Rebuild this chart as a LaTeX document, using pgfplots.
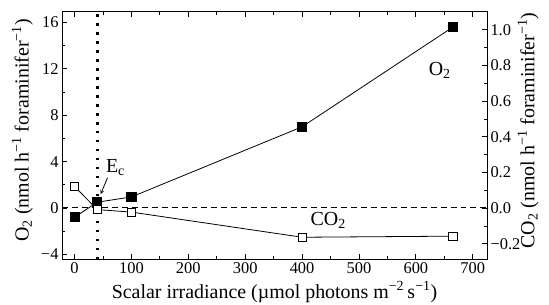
\documentclass[border=0pt]{standalone}
\usepackage{fontspec}
\setmainfont{Liberation Serif}
\usepackage{pgfplots}
\pgfplotsset{compat=1.18}
\begin{document}
\begin{tikzpicture}[font=\fontsize{20}{23}\selectfont]
\pgfplotsset{
  common/.style={
    scale only axis, width=425bp, height=247bp,
    xmin=-22, xmax=725,
    tick align=inside,
    major tick length=5bp, minor tick length=3bp,
    every tick/.style={black, line width=0.8pt},
    axis line style={line width=1pt},
    tick label style={font=\fontsize{16.5}{19}\selectfont},
    label style={font=\fontsize{20}{23}\selectfont},
  }
}
\begin{axis}[common,
  ymin=-4.4, ymax=16.9,
  xtick={0,100,...,700}, minor x tick num=1,
  xticklabels={0,100,200,300,400,500,600,700},
  ytick={-4,0,4,8,12,16}, minor y tick num=1,
  yticklabels={−4,0,4,8,12,16},
  ytick pos=left, xtick pos=both,
  xlabel={Scalar irradiance (µmol photons m\textsuperscript{−2}\,s\textsuperscript{−1})},
  ylabel={O\textsubscript{2} (nmol h\textsuperscript{−1} foraminifer\textsuperscript{−1})},
  ylabel style={at={(axis description cs:-0.093,0.52)}, anchor=center},
  xlabel style={at={(axis description cs:0.5,-0.133)}, anchor=center},
]
\coordinate (bl) at (rel axis cs:0,0);
\coordinate (tr) at (rel axis cs:1,1);
\addplot[black, line width=1pt, dash pattern=on 6pt off 4pt, forget plot] coordinates {(-22,0) (725,0)};
\addplot[black, line width=2.5pt, dash pattern=on 2.5pt off 6.5pt, forget plot] coordinates {(40,-4.4) (40,16.9)};
\addplot[black, line width=0.8pt, mark=square*, mark size=4.6pt, mark options={solid, fill=black}] coordinates {
(0,-0.8) (40,0.5) (100,0.95) (400,7.0) (665,15.6)};
\node[anchor=center] at (axis cs:642,11.9) {O\textsubscript{2}};
\node[anchor=center] at (axis cs:446,-1.1) {CO\textsubscript{2}};
\node[anchor=center] at (axis cs:72,3.5) {E\textsubscript{c}};
\draw[-stealth, line width=0.8pt] (axis cs:58,2.6) -- (axis cs:46,1.2);
\end{axis}
\begin{axis}[common,
  ymin=-0.285, ymax=1.10,
  axis x line=none,
  axis y line*=right,
  ytick={-0.2,0,0.2,0.4,0.6,0.8,1.0}, minor y tick num=1,
  yticklabels={−0.2,0.0,0.2,0.4,0.6,0.8,1.0},
  ylabel={CO\textsubscript{2} (nmol h\textsuperscript{−1} foraminifer\textsuperscript{−1})},
  ylabel style={at={(axis description cs:1.097,0.52)}, anchor=center, rotate=0},
]
\addplot[black, line width=0.8pt, mark=square*, mark size=4.2pt, mark options={solid, fill=white}] coordinates {
(0,0.122) (40,-0.008) (100,-0.022) (400,-0.163) (665,-0.157)};
\end{axis}
\pgfresetboundingbox
\path ([shift={(-62bp,-46bp)}]bl) rectangle ([shift={(62bp,12bp)}]tr);
\end{tikzpicture}
\end{document}
